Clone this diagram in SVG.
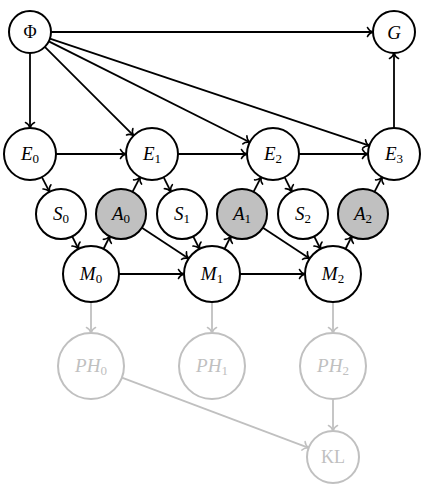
<svg xmlns="http://www.w3.org/2000/svg" width="425" height="491" viewBox="0 0 425 491">
<style>
.n{fill:#fff;stroke:#000;stroke-width:2}
.a{fill:#c0c0c0;stroke:#000;stroke-width:2}
.g{fill:#fff;stroke:#c0c0c0;stroke-width:2}
.t{font-family:"Liberation Serif","Times New Roman",serif;font-size:19px;font-style:italic;text-anchor:middle;fill:#000}
.tg{fill:#c0c0c0}
.s{font-style:normal;font-size:13px}
.e{fill:none;stroke:#000;stroke-width:1.8;marker-end:url(#ah)}
.eg{fill:none;stroke:#c0c0c0;stroke-width:1.8;marker-end:url(#ahg)}
</style>
<defs>
<marker id="ah" viewBox="-7 -6 8 12" markerWidth="8" markerHeight="12" refX="0" refY="0" orient="auto" markerUnits="userSpaceOnUse">
<path d="M-5.5,-4.5 C-4.5,-2 -1.5,-0.5 0,0 C-1.5,0.5 -4.5,2 -5.5,4.5" fill="none" stroke="#000" stroke-width="1.6" stroke-linecap="round"/>
</marker>
<marker id="ahg" viewBox="-7 -6 8 12" markerWidth="8" markerHeight="12" refX="0" refY="0" orient="auto" markerUnits="userSpaceOnUse">
<path d="M-5.5,-4.5 C-4.5,-2 -1.5,-0.5 0,0 C-1.5,0.5 -4.5,2 -5.5,4.5" fill="none" stroke="#c0c0c0" stroke-width="1.6" stroke-linecap="round"/>
</marker>
</defs>
<g id="edges">
<path class="e" d="M51,32 L373,32"/>
<path class="e" d="M30,53 L30,128"/>
<path class="e" d="M44.8,46.8 L133.6,135.6"/>
<path class="e" d="M48.8,41.4 L249.8,142.3"/>
<path class="e" d="M49.9,38.7 L369.3,145.7"/>
<path class="e" d="M56,154 L126,154"/>
<path class="e" d="M178,154 L247,154"/>
<path class="e" d="M299,154 L368,154"/>
<path class="e" d="M394,128 L394,53"/>
<path class="e" d="M41.9,177.1 L49.5,191.8"/>
<path class="e" d="M132.5,191.8 L140.1,177.1"/>
<path class="e" d="M163.6,177.2 L170.8,191.6"/>
<path class="e" d="M253.5,191.8 L261.1,177.1"/>
<path class="e" d="M284.6,177.2 L291.8,191.6"/>
<path class="e" d="M374.5,191.8 L382.1,177.1"/>
<path class="e" d="M72.2,236.4 L78.5,249"/>
<path class="e" d="M103.5,249 L109.8,236.4"/>
<path class="e" d="M141.9,227.8 L188.6,258.6"/>
<path class="e" d="M193.2,236.4 L199.5,249"/>
<path class="e" d="M224.5,249 L230.8,236.4"/>
<path class="e" d="M262.9,227.8 L309.6,258.6"/>
<path class="e" d="M314.2,236.4 L320.5,249"/>
<path class="e" d="M345.5,249 L351.8,236.4"/>
<path class="e" d="M119,274 L184,274"/>
<path class="e" d="M240,274 L305,274"/>
<path class="eg" d="M91,302 L91,333"/>
<path class="eg" d="M212,302 L212,333"/>
<path class="eg" d="M333,302 L333,333"/>
<path class="eg" d="M121.9,377.6 L308.7,447.8"/>
<path class="eg" d="M333,399 L333,431"/>
</g>
<g id="Phi"><circle class="n" cx="30" cy="32" r="21"/><text class="t" x="30" y="38" style="font-style:normal;font-size:18px">Φ</text></g>
<g id="G"><circle class="n" cx="394" cy="32" r="21"/><text class="t" x="394" y="39">G</text></g>
<g id="E0"><circle class="n" cx="30" cy="154" r="26"/><text class="t" x="30" y="160">E<tspan class="s" dy="3">0</tspan></text></g>
<g id="E1"><circle class="n" cx="152" cy="154" r="26"/><text class="t" x="152" y="160">E<tspan class="s" dy="3">1</tspan></text></g>
<g id="E2"><circle class="n" cx="273" cy="154" r="26"/><text class="t" x="273" y="160">E<tspan class="s" dy="3">2</tspan></text></g>
<g id="E3"><circle class="n" cx="394" cy="154" r="26"/><text class="t" x="394" y="160">E<tspan class="s" dy="3">3</tspan></text></g>
<g id="S0"><circle class="n" cx="61" cy="214" r="25"/><text class="t" x="61" y="220">S<tspan class="s" dy="3">0</tspan></text></g>
<g id="A0"><circle class="a" cx="121" cy="214" r="25"/><text class="t" x="121" y="220">A<tspan class="s" dy="3">0</tspan></text></g>
<g id="S1"><circle class="n" cx="182" cy="214" r="25"/><text class="t" x="182" y="220">S<tspan class="s" dy="3">1</tspan></text></g>
<g id="A1"><circle class="a" cx="242" cy="214" r="25"/><text class="t" x="242" y="220">A<tspan class="s" dy="3">1</tspan></text></g>
<g id="S2"><circle class="n" cx="303" cy="214" r="25"/><text class="t" x="303" y="220">S<tspan class="s" dy="3">2</tspan></text></g>
<g id="A2"><circle class="a" cx="363" cy="214" r="25"/><text class="t" x="363" y="220">A<tspan class="s" dy="3">2</tspan></text></g>
<g id="M0"><circle class="n" cx="91" cy="274" r="28"/><text class="t" x="91" y="280">M<tspan class="s" dy="3">0</tspan></text></g>
<g id="M1"><circle class="n" cx="212" cy="274" r="28"/><text class="t" x="212" y="280">M<tspan class="s" dy="3">1</tspan></text></g>
<g id="M2"><circle class="n" cx="333" cy="274" r="28"/><text class="t" x="333" y="280">M<tspan class="s" dy="3">2</tspan></text></g>
<g id="PH0"><circle class="g" cx="91" cy="366" r="33"/><text class="t tg" x="91" y="372">PH<tspan class="s" dy="3">0</tspan></text></g>
<g id="PH1"><circle class="g" cx="212" cy="366" r="33"/><text class="t tg" x="212" y="372">PH<tspan class="s" dy="3">1</tspan></text></g>
<g id="PH2"><circle class="g" cx="333" cy="366" r="33"/><text class="t tg" x="333" y="372">PH<tspan class="s" dy="3">2</tspan></text></g>
<g id="KL"><circle class="g" cx="333" cy="457" r="26"/><text class="t tg" x="333" y="463" style="font-style:normal;font-size:18px">KL</text></g>
</svg>
